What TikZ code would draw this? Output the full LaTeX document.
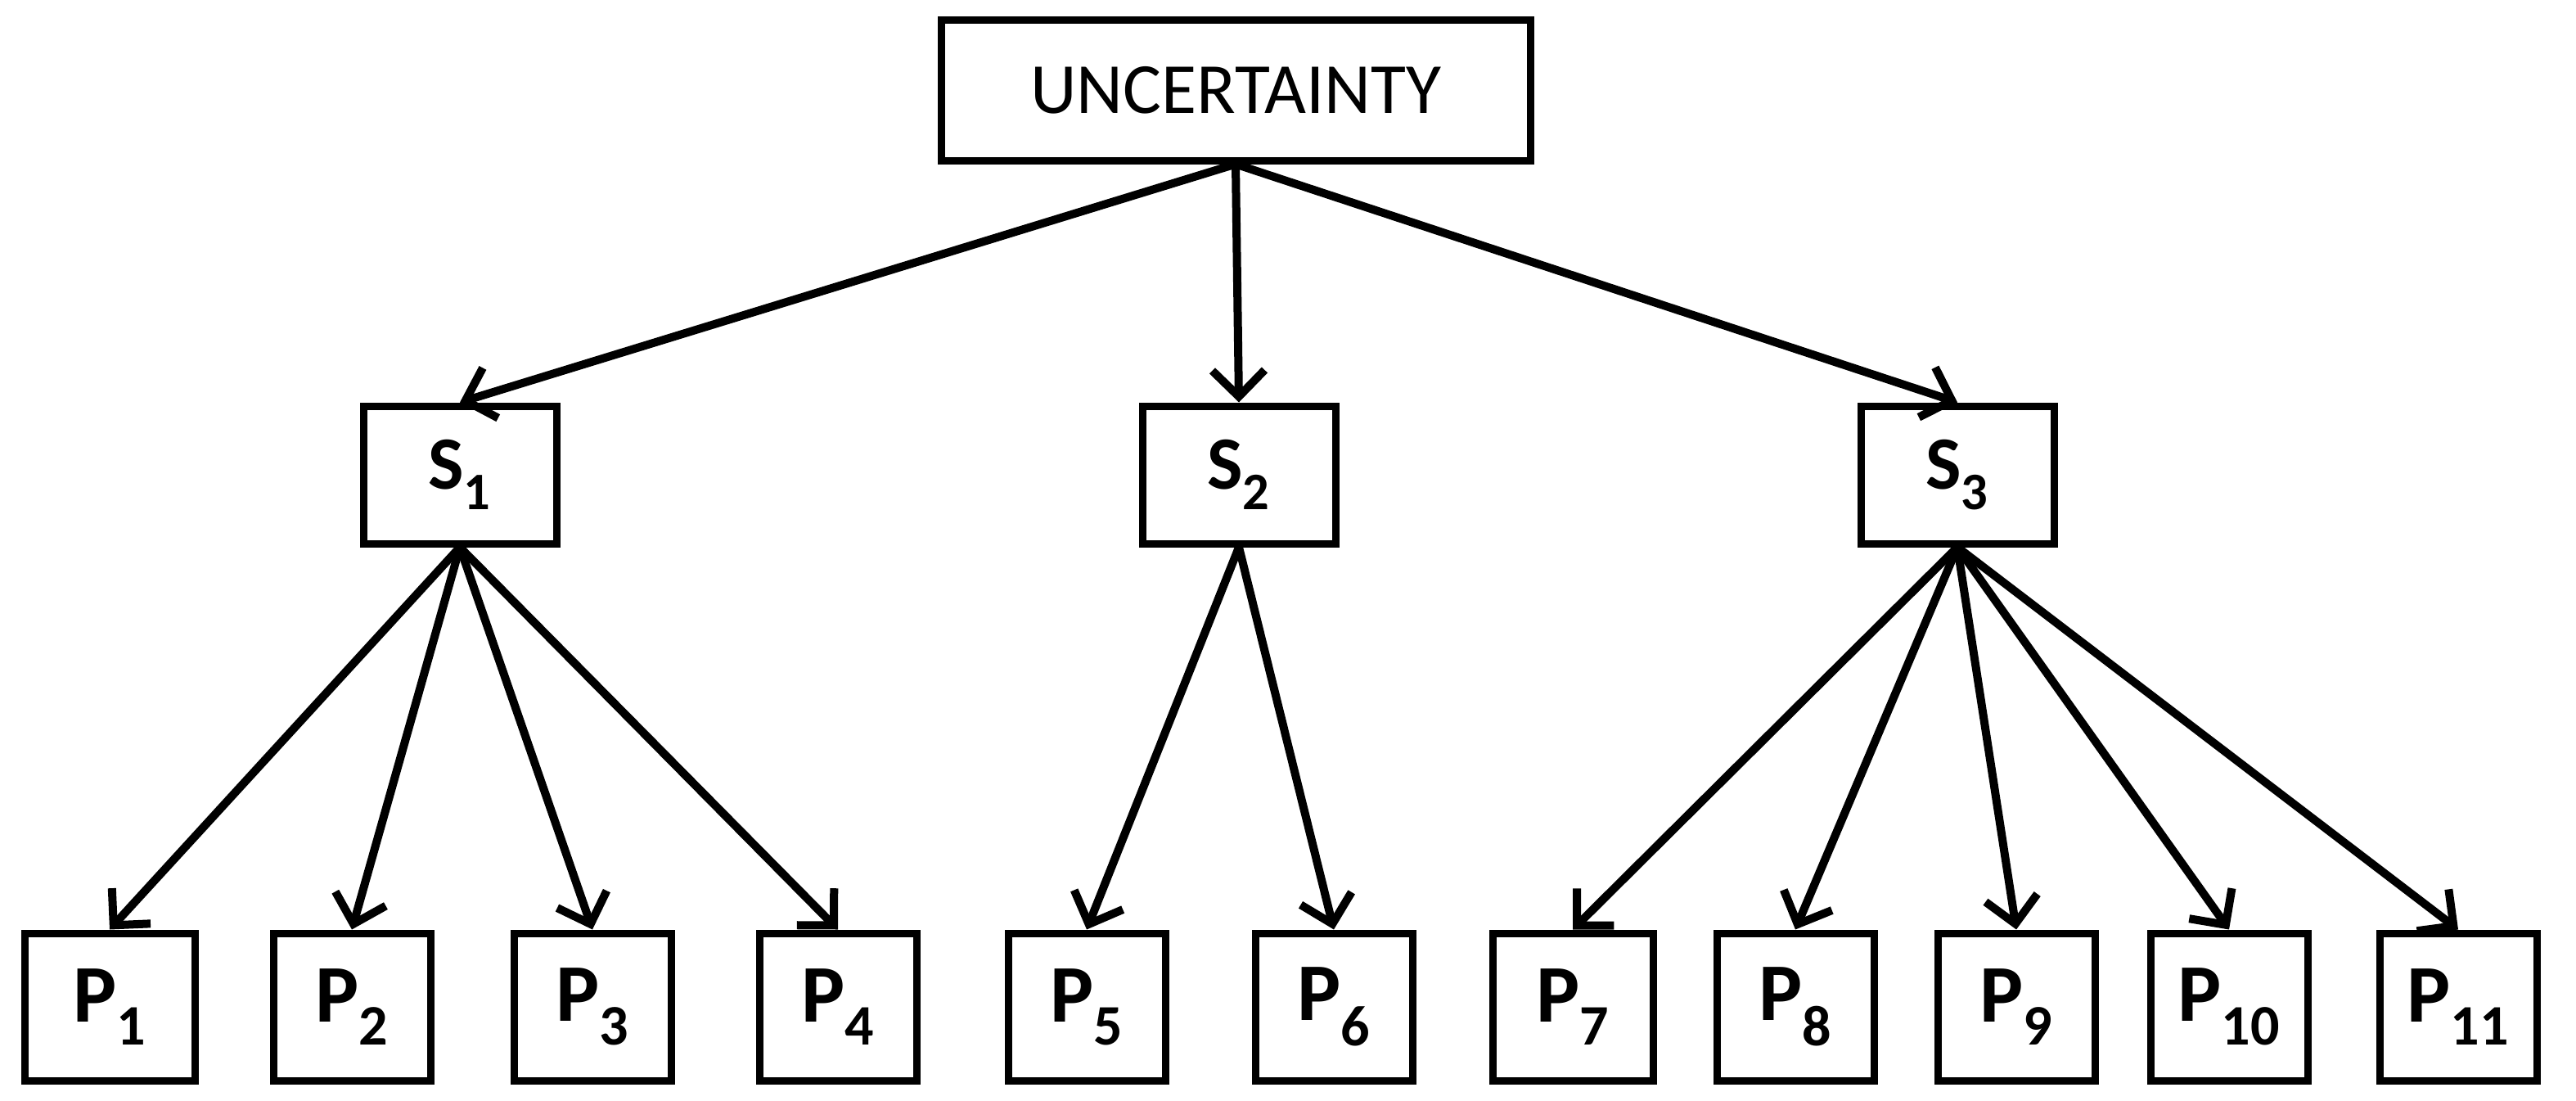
\documentclass[tikz,border=0pt]{standalone}
\usepackage{fontspec}
\setmainfont{Carlito}
\usetikzlibrary{arrows.meta}
\begin{document}
\begin{tikzpicture}[x=1pt,y=-1pt,
  box/.style={draw,line width=4.5pt,inner sep=0pt,anchor=center},
  arr/.style={line width=5pt,-{Straight Barb[length=16pt,width=32pt,line width=5pt]}}]
\useasboundingbox (0,0) rectangle (1574,672);
\node[box,minimum width=360pt,minimum height=86pt,font=\fontsize{44}{50}\selectfont] (U) at (755,55) {UNCERTAINTY};
\foreach \n/\x/\i in {S1/281/1,S2/757/2,S3/1196/3}
  \node[box,minimum width=118pt,minimum height=84pt,font=\fontsize{46}{50}\selectfont\bfseries] (\n) at (\x,290) {S$_{\mathbf{\i}}$};
\foreach \i/\x/\w in {1/67/104,2/215/96,3/362/96,4/512/96,5/664/96,6/815/96,7/961/98,8/1097/96,9/1232/96,10/1362/96,11/1502/96}
  \node[box,minimum width=\w pt,minimum height=90pt,font=\fontsize{50}{54}\selectfont\bfseries] (P\i) at (\x,615) {P$_{\mathbf{\i}}$};
\foreach \c in {S1,S2,S3} \draw[arr] (U.south) -- (\c.north);
\foreach \c in {P1,P2,P3,P4} \draw[arr] (S1.south) -- (\c.north);
\foreach \c in {P5,P6} \draw[arr] (S2.south) -- (\c.north);
\foreach \c in {P7,P8,P9,P10,P11} \draw[arr] (S3.south) -- (\c.north);
\end{tikzpicture}
\end{document}
